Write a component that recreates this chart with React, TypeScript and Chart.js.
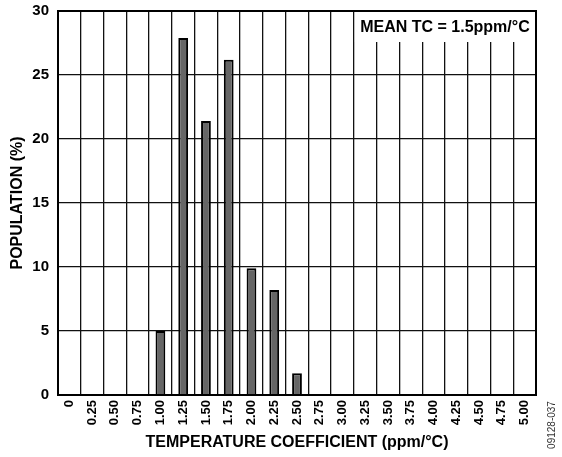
import React, { useEffect, useRef } from "react";
import { Chart, registerables } from "chart.js";

Chart.register(...registerables);

const categories = [
  "0", "0.25", "0.50", "0.75", "1.00", "1.25", "1.50", "1.75", "2.00", "2.25", "2.50",
  "2.75", "3.00", "3.25", "3.50", "3.75", "4.00", "4.25", "4.50", "4.75", "5.00",
];
const population: (number | null)[] = [
  null, null, null, null, 5.0, 27.9, 21.4, 26.2, 9.9, 8.2, 1.7,
  null, null, null, null, null, null, null, null, null, null,
];
const yTicks = [0, 5, 10, 15, 20, 25, 30];
const meanLabel = "MEAN TC = 1.5ppm/°C";
const figureId = "09128-037";
const xTitle = "TEMPERATURE COEFFICIENT (ppm/°C)";
const yTitle = "POPULATION (%)";

const FONT = "'Liberation Sans', Arial, sans-serif";

export default function App() {
  const ref = useRef<HTMLCanvasElement | null>(null);
  useEffect(() => {
    if (!ref.current) return;
    const overlay = {
      id: "overlay",
      beforeDatasetsDraw(chart: any) {
        const { ctx, chartArea } = chart;
        const xs = chart.scales.x;
        const boxLeft = xs.getPixelForValue(12.5);
        ctx.save();
        ctx.fillStyle = "#fff";
        ctx.fillRect(boxLeft + 1, chartArea.top + 1, chartArea.right - boxLeft - 2, 30);
        ctx.fillStyle = "#000";
        ctx.font = `bold 16px ${FONT}`;
        ctx.textAlign = "center";
        ctx.textBaseline = "middle";
        ctx.fillText(meanLabel, (boxLeft + chartArea.right) / 2, chartArea.top + 17);
        ctx.restore();
      },
      afterDraw(chart: any) {
        const { ctx, chartArea } = chart;
        ctx.save();
        ctx.strokeStyle = "#000";
        ctx.lineWidth = 2;
        ctx.strokeRect(chartArea.left, chartArea.top, chartArea.right - chartArea.left, chartArea.bottom - chartArea.top);
        ctx.translate(552, 425);
        ctx.rotate(-Math.PI / 2);
        ctx.fillStyle = "#333";
        ctx.font = `10px ${FONT}`;
        ctx.textAlign = "center";
        ctx.textBaseline = "middle";
        ctx.fillText(figureId, 0, 0);
        ctx.restore();
      },
    };
    const chart = new Chart(ref.current, {
      type: "bar",
      data: {
        labels: categories,
        datasets: [
          {
            data: population as any,
            backgroundColor: "#666666",
            borderColor: "#000",
            borderWidth: 2,
            categoryPercentage: 1,
            barPercentage: 0.43,
          },
        ],
      },
      options: {
        animation: false,
        responsive: false,
        maintainAspectRatio: false,
        layout: { padding: { left: 0, right: 26, top: 11, bottom: 0 } },
        plugins: { legend: { display: false }, tooltip: { enabled: false } },
        scales: {
          x: {
            offset: true,
            grid: { offset: true, color: "#111", lineWidth: 1.3, drawTicks: false },
            border: { display: false },
            ticks: {
              color: "#000",
              font: { family: FONT, size: 13, weight: "bold" },
              maxRotation: 90,
              minRotation: 90,
              padding: 5,
              autoSkip: false,
            },
            title: {
              display: true,
              text: xTitle,
              color: "#000",
              font: { family: FONT, size: 16, weight: "bold" },
              padding: { top: 0, bottom: 5 },
            },
            afterFit(s: any) {
              s.height = 62;
              s.paddingLeft = 0;
              s.paddingRight = 0;
            },
          },
          y: {
            min: 0,
            max: 30,
            afterBuildTicks(s: any) {
              s.ticks = yTicks.map((v) => ({ value: v }));
            },
            grid: { color: "#111", lineWidth: 1.3, drawTicks: false },
            border: { display: false },
            ticks: {
              color: "#000",
              font: { family: FONT, size: 15, weight: "bold" },
              padding: 9,
            },
            title: {
              display: true,
              text: yTitle,
              color: "#000",
              font: { family: FONT, size: 16, weight: "bold" },
              padding: { top: 8, bottom: 0 },
            },
            afterFit(s: any) {
              s.width = 58;
              s.paddingTop = 0;
              s.paddingBottom = 0;
            },
          },
        },
      },
      plugins: [overlay],
    });
    return () => chart.destroy();
  }, []);
  return (
    <div style={{ position: "absolute", left: 0, top: 0, width: 562, height: 457, background: "#fff" }}>
      <canvas ref={ref} width={562} height={457} style={{ width: 562, height: 457, display: "block" }} />
    </div>
  );
}
